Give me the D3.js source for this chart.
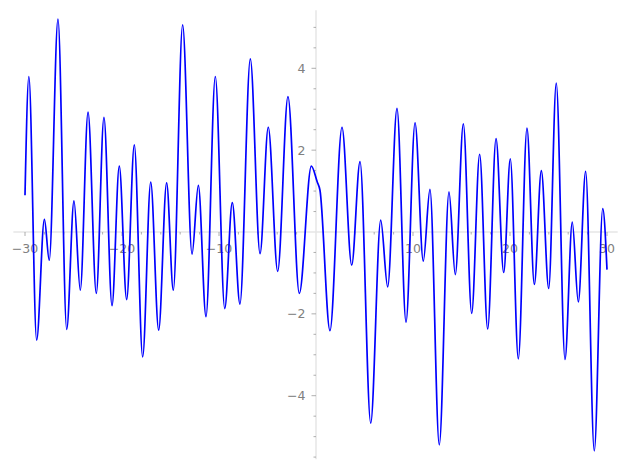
<!DOCTYPE html>
<html>
<head>
<meta charset="utf-8">
<script src="https://cdn.jsdelivr.net/npm/d3@7"></script>
<style>
  html, body { margin: 0; padding: 0; background: #fff; }
  svg { display: block; }
  text { font-family: "DejaVu Sans", sans-serif; }
</style>
</head>
<body>
<svg id="chart" width="627" height="470"></svg>
<script>
// ---- data ----
const xValues = [-30, -29.6, -28.8, -28.0, -27.5, -26.6, -25.7, -24.95, -24.3, -23.5,
  -22.65, -21.86, -21.03, -20.28, -19.52, -18.73, -17.87, -17.04, -16.22, -15.40,
  -14.71, -13.75, -12.78, -12.13, -11.34, -10.38, -9.41, -8.63, -7.84, -6.77,
  -5.77, -4.92, -3.95, -2.89, -1.72, -0.48, 0.13, 0.41, 1.44, 2.68,
  3.68, 4.54, 5.64, 6.67, 7.39, 8.35, 9.28, 10.21, 11.06, 11.75,
  12.71, 13.71, 14.36, 15.19, 16.05, 16.87, 17.70, 18.56, 19.35, 20.03,
  20.86, 21.75, 22.51, 23.23, 23.99, 24.77, 25.67, 26.42, 27.04, 27.80,
  28.69, 29.56, 30];
const yValues = [0.90, 3.80, -2.64, 0.31, -0.69, 5.20, -2.38, 0.76, -1.42, 2.93,
  -1.50, 2.80, -1.80, 1.61, -1.65, 2.13, -3.05, 1.22, -2.40, 1.20,
  -1.42, 5.06, -0.54, 1.14, -2.07, 3.80, -1.87, 0.72, -1.76, 4.23,
  -0.53, 2.56, -0.96, 3.31, -1.50, 1.61, 1.22, 1.02, -2.41, 2.56,
  -0.81, 1.72, -4.67, 0.29, -1.34, 3.02, -2.20, 2.67, -0.71, 1.04,
  -5.20, 0.98, -1.04, 2.64, -1.99, 1.90, -2.37, 2.28, -0.99, 1.79,
  -3.10, 2.54, -1.28, 1.50, -1.38, 3.64, -3.11, 0.24, -1.71, 1.48,
  -5.35, 0.57, -0.92];
const xMajorTicks = [-30, -20, -10, 10, 20, 30];
const xMinorTicks = d3.range(-30, 31, 2).filter(v => v % 10 !== 0);
const yMajorTicks = [-4, -2, 2, 4];
const yMinorTicks = d3.range(-5.5, 5.01, 0.5).filter(v => v % 2 !== 0);
const xExtent = [-31.2, 31.1];
const yExtent = [-5.55, 5.42];

// ---- layout ----
const svg = d3.select("#chart");
const x = d3.scaleLinear().domain([-30, 30]).range([25, 607]);
const y = d3.scaleLinear().domain([-4, 4]).range([395.7, 68.3]);
const axisColor = "#e6e6e6";
const tickColor = "#9a9a9a";
const labelColor = "#808080";

// axis lines
svg.append("line")
  .attr("x1", x(xExtent[0])).attr("x2", x(xExtent[1]))
  .attr("y1", y(0)).attr("y2", y(0))
  .attr("stroke", axisColor).attr("stroke-width", 1.5);
svg.append("line")
  .attr("x1", x(0)).attr("x2", x(0))
  .attr("y1", y(yExtent[1])).attr("y2", y(yExtent[0]))
  .attr("stroke", axisColor).attr("stroke-width", 1.5);

// x ticks
svg.append("g").selectAll("line.xmaj").data(xMajorTicks).join("line")
  .attr("x1", d => x(d)).attr("x2", d => x(d))
  .attr("y1", y(0)).attr("y2", y(0) + 4)
  .attr("stroke", tickColor).attr("stroke-width", 0.8);
svg.append("g").selectAll("line.xmin").data(xMinorTicks).join("line")
  .attr("x1", d => x(d)).attr("x2", d => x(d))
  .attr("y1", y(0)).attr("y2", y(0) + 2.5)
  .attr("stroke", tickColor).attr("stroke-width", 0.8);
svg.append("g").selectAll("text").data(xMajorTicks).join("text")
  .attr("x", d => x(d)).attr("y", y(0) + 20.5)
  .attr("text-anchor", "middle")
  .attr("font-size", 12.5).attr("fill", labelColor)
  .text(d => d3.format("")(d).replace("-", "\u2212"));

// y ticks
svg.append("g").selectAll("line").data(yMajorTicks).join("line")
  .attr("x1", x(0) - 4.5).attr("x2", x(0))
  .attr("y1", d => y(d)).attr("y2", d => y(d))
  .attr("stroke", tickColor).attr("stroke-width", 0.8);
svg.append("g").selectAll("line").data(yMinorTicks).join("line")
  .attr("x1", x(0) - 2.5).attr("x2", x(0))
  .attr("y1", d => y(d)).attr("y2", d => y(d))
  .attr("stroke", tickColor).attr("stroke-width", 0.8);
svg.append("g").selectAll("text").data(yMajorTicks).join("text")
  .attr("x", x(0) - 10.5).attr("y", d => y(d))
  .attr("dy", "0.36em")
  .attr("text-anchor", "end")
  .attr("font-size", 12.5).attr("fill", labelColor)
  .text(d => d3.format("")(d).replace("-", "\u2212"));

// curve
const pts = xValues.map((v, i) => [v, yValues[i]]);
const line = d3.line()
  .x(d => x(d[0])).y(d => y(d[1]))
  .curve(d3.curveMonotoneX);
svg.append("path")
  .datum(pts)
  .attr("d", line)
  .attr("fill", "none")
  .attr("stroke", "#0000ff")
  .attr("stroke-width", 1.7);
</script>
</body>
</html>
